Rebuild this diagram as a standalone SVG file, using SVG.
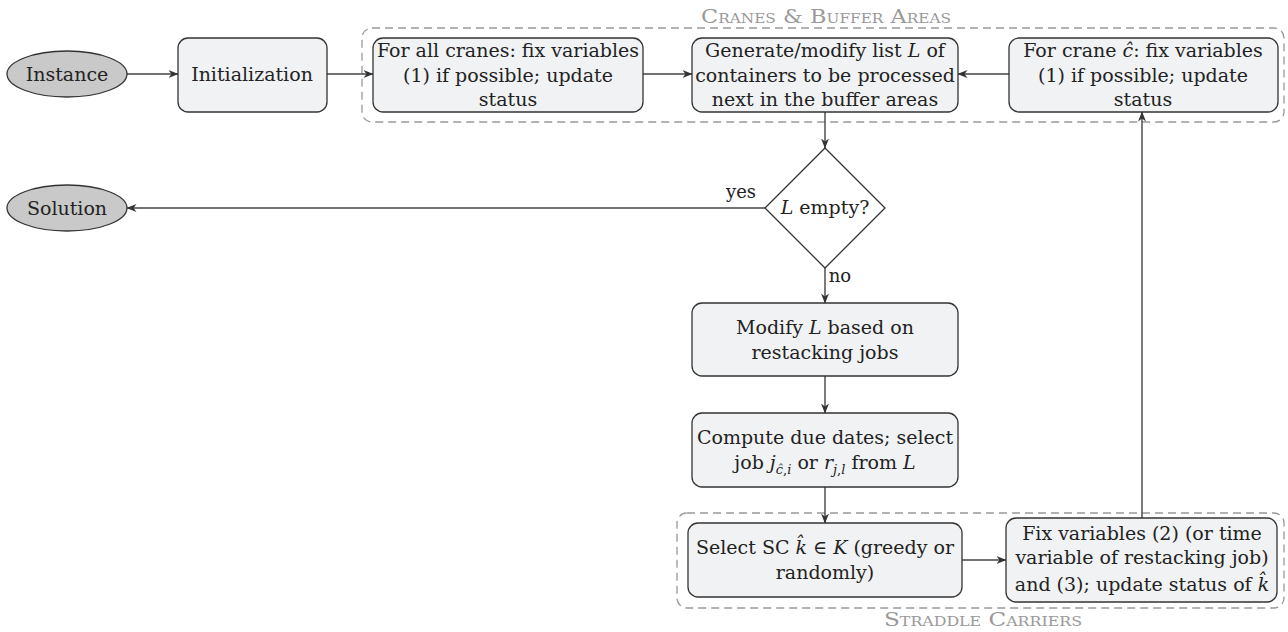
<svg xmlns="http://www.w3.org/2000/svg" width="1288" height="632" viewBox="0 0 1288 632" font-family="'DejaVu Serif', serif">
<defs>
<style>
text{font-family:"DejaVu Serif",serif;font-size:19px;fill:#222;text-anchor:middle}
.box{fill:#f1f2f4;stroke:#333;stroke-width:1.3}
.ell{fill:#c9c9c9;stroke:#333;stroke-width:1.3}
.grp{fill:none;stroke:#999;stroke-width:1.3;stroke-dasharray:8,5}
.glab{fill:#999;font-variant:small-caps;font-size:19px;font-family:"DejaVu Serif",serif}
.edge{fill:none;stroke:#444;stroke-width:1.4;marker-end:url(#ah)}
.it{font-style:italic}
.sub{font-size:13px}
.lbl{font-size:18px}
</style>
<marker id="ah" viewBox="0 0 10 10" refX="9.5" refY="5" markerWidth="10" markerHeight="10" markerUnits="userSpaceOnUse" orient="auto">
<path d="M0,1 L10,5 L0,9 L3,5 Z" fill="#333"/>
</marker>
</defs>
<rect width="1288" height="632" fill="#fff"/>
<g id="group-cranes">
<rect class="grp" x="362" y="28" width="922" height="94" rx="10"/>
<text class="glab" x="826" y="23" textLength="250" lengthAdjust="spacingAndGlyphs">Cranes &amp; Buffer Areas</text>
</g>
<g id="group-sc">
<rect class="grp" x="677" y="513" width="607" height="95" rx="10"/>
<text class="glab" x="983" y="626" textLength="198" lengthAdjust="spacingAndGlyphs">Straddle Carriers</text>
</g>
<g id="connectors">
<path class="edge" d="M127,74 L178,74"/>
<path class="edge" d="M327,74 L373,74"/>
<path class="edge" d="M643,74 L692,74"/>
<path class="edge" d="M1009,74 L958,74"/>
<path class="edge" d="M825,112 L825,148"/>
<path class="edge" d="M765,208 L127,208"/>
<text class="lbl" x="741" y="198">yes</text>
<path class="edge" d="M825,268 L825,303"/>
<text class="lbl" x="840" y="282">no</text>
<path class="edge" d="M825,376 L825,413"/>
<path class="edge" d="M825,487 L825,523"/>
<path class="edge" d="M962,560 L1006,560"/>
<path class="edge" d="M1142,518 L1142,112"/>
</g>
<g id="instance">
<ellipse class="ell" cx="67" cy="74" rx="60" ry="23"/>
<text x="67" y="81">Instance</text>
</g>
<g id="initialization">
<rect class="box" x="178" y="38" width="149" height="74" rx="10"/>
<text x="252" y="81">Initialization</text>
</g>
<g id="fix-all-cranes">
<rect class="box" x="373" y="38" width="270" height="74" rx="10"/>
<text x="508" y="57">For all cranes: fix variables</text>
<text x="508" y="82">(1) if possible; update</text>
<text x="508" y="106">status</text>
</g>
<g id="generate-list">
<rect class="box" x="692" y="38" width="266" height="74" rx="10"/>
<text x="825" y="57">Generate/modify list <tspan class="it">L</tspan> of</text>
<text x="825" y="82">containers to be processed</text>
<text x="825" y="106">next in the buffer areas</text>
</g>
<g id="fix-crane">
<rect class="box" x="1009" y="38" width="269" height="74" rx="10"/>
<text x="1143" y="57">For crane <tspan class="it">ĉ</tspan>: fix variables</text>
<text x="1143" y="82">(1) if possible; update</text>
<text x="1143" y="106">status</text>
</g>
<g id="decision">
<polygon class="box" points="825,148 885,208 825,268 765,208" style="fill:#fff"/>
<text x="825" y="214"><tspan class="it">L</tspan> empty?</text>
</g>
<g id="solution">
<ellipse class="ell" cx="67" cy="208" rx="60" ry="23"/>
<text x="67" y="215">Solution</text>
</g>
<g id="modify-list">
<rect class="box" x="692" y="303" width="266" height="73" rx="10"/>
<text x="825" y="334">Modify <tspan class="it">L</tspan> based on</text>
<text x="825" y="359">restacking jobs</text>
</g>
<g id="compute-due">
<rect class="box" x="692" y="413" width="266" height="74" rx="10"/>
<text x="825" y="444">Compute due dates; select</text>
<text x="825" y="469">job <tspan class="it">j</tspan><tspan class="sub it" dy="5">ĉ</tspan><tspan class="sub" >,</tspan><tspan class="sub it">i</tspan><tspan dy="-5"> or </tspan><tspan class="it">r</tspan><tspan class="sub it" dy="5">j</tspan><tspan class="sub">,</tspan><tspan class="sub it">l</tspan><tspan dy="-5"> from </tspan><tspan class="it">L</tspan></text>
</g>
<g id="select-sc">
<rect class="box" x="688" y="523" width="274" height="74" rx="10"/>
<text x="825" y="554">Select SC <tspan class="it">k̂</tspan> ∈ <tspan class="it">K</tspan> (greedy or</text>
<text x="825" y="579">randomly)</text>
</g>
<g id="fix-sc">
<rect class="box" x="1006" y="518" width="271" height="84" rx="10"/>
<text x="1142" y="540">Fix variables (2) (or time</text>
<text x="1142" y="564">variable of restacking job)</text>
<text x="1142" y="591">and (3); update status of <tspan class="it">k̂</tspan></text>
</g>
</svg>
